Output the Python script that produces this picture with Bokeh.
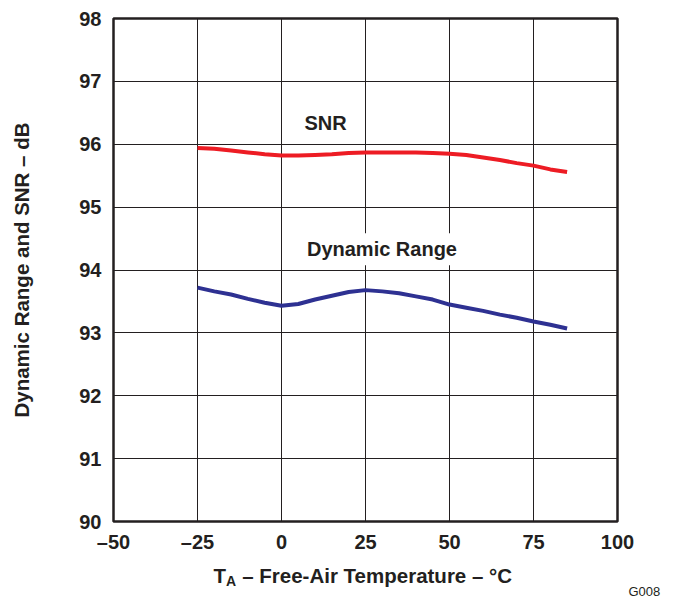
from bokeh.plotting import figure
from bokeh.models import Range1d, FixedTicker, Label, LinearAxis
from bokeh.layouts import column
from bokeh.embed import file_html
from bokeh.resources import INLINE

# ---- data ----
temperature = [-25, -20, -15, -10, -5, 0, 5, 10, 15, 20, 25, 30, 35, 40, 45, 50, 55, 60, 65, 70, 75, 80, 85]
snr = [95.94, 95.93, 95.90, 95.87, 95.84, 95.82, 95.82, 95.83, 95.84, 95.86, 95.87, 95.87, 95.87, 95.87,
       95.86, 95.85, 95.83, 95.79, 95.75, 95.70, 95.66, 95.60, 95.56]
dynamic_range = [93.72, 93.66, 93.61, 93.54, 93.48, 93.43, 93.46, 93.53, 93.59, 93.65, 93.68, 93.66, 93.63,
                 93.58, 93.53, 93.45, 93.40, 93.35, 93.29, 93.24, 93.18, 93.13, 93.07]
x_ticks = [-50, -25, 0, 25, 50, 75, 100]
y_ticks = [90, 91, 92, 93, 94, 95, 96, 97, 98]
x_tick_labels = {-50: "\u201350", -25: "\u201325"}

FONT = "Liberation Sans"
INK = "#231f20"
W = 673
H1, H2 = 562, 37

p = figure(width=W, height=H1, output_backend="svg", toolbar_location=None,
           x_range=Range1d(-50, 100), y_range=Range1d(90, 98),
           min_border_left=113, min_border_right=56, min_border_top=18, min_border_bottom=41)
p.background_fill_color = "white"
p.border_fill_color = "white"
p.outline_line_color = INK
p.outline_line_width = 2.5

p.xaxis.ticker = FixedTicker(ticks=x_ticks)
p.yaxis.ticker = FixedTicker(ticks=y_ticks)
p.xaxis.major_label_overrides = x_tick_labels
for ax in (p.xaxis[0], p.yaxis[0]):
    ax.axis_line_color = None
    ax.major_tick_line_color = None
    ax.minor_tick_line_color = None
    ax.major_tick_out = 0
    ax.major_tick_in = 0
    ax.major_label_text_font = FONT
    ax.major_label_text_font_style = "bold"
    ax.major_label_text_font_size = "20px"
    ax.major_label_text_color = INK
p.xaxis.major_label_standoff = 9
p.yaxis.major_label_standoff = 12

p.yaxis.axis_label = "Dynamic Range and SNR \u2013 dB"
p.yaxis.axis_label_text_font = FONT
p.yaxis.axis_label_text_font_style = "bold"
p.yaxis.axis_label_text_font_size = "20.5px"
p.yaxis.axis_label_text_color = INK
p.yaxis.axis_label_standoff = 43

for g in (p.xgrid[0], p.ygrid[0]):
    g.grid_line_color = INK
    g.grid_line_width = 1
    g.grid_line_alpha = 1

p.line(temperature, snr, line_color="#ed1c24", line_width=4)
p.line(temperature, dynamic_range, line_color="#2e3192", line_width=4)

for txt, lx, ly in (("SNR", 13.1, 96.34), ("Dynamic Range", 29.9, 94.33)):
    p.add_layout(Label(x=lx, y=ly, text=txt, text_align="center", text_baseline="middle",
                       text_font=FONT, text_font_style="bold", text_font_size="20px",
                       text_color=INK, background_fill_color="white", padding=5))

# strip below the plot: x-axis title with subscript, and the figure code
# (its frame is aligned with the plot frame, so its x units are page pixels 113..617)
q = figure(width=W, height=H2, output_backend="svg", toolbar_location=None, title=None,
           x_axis_location=None, y_axis_location=None,
           x_range=Range1d(113, 617), y_range=Range1d(0, H2),
           min_border_left=0, min_border_right=0, min_border_top=0, min_border_bottom=0)
q.grid.visible = False
q.outline_line_color = None
q.background_fill_color = "white"
q.border_fill_color = "white"

q.add_layout(Label(x=213, y=24, text="T", text_align="left", text_baseline="alphabetic",
                   text_font=FONT, text_font_style="bold", text_font_size="20.5px", text_color=INK))
q.add_layout(Label(x=225.5, y=19, text="A", text_align="left", text_baseline="alphabetic",
                   text_font=FONT, text_font_style="bold", text_font_size="14px", text_color=INK))
q.add_layout(Label(x=236, y=24, text="\u00a0\u2013 Free-Air Temperature \u2013 \u00b0C", text_align="left",
                   text_baseline="alphabetic", text_font=FONT, text_font_style="bold",
                   text_font_size="20.5px", text_color=INK))

code_axis = LinearAxis(ticker=FixedTicker(ticks=[7]), major_label_overrides={7: "G008"})
code_axis.axis_line_color = None
code_axis.major_tick_line_color = None
code_axis.minor_tick_line_color = None
code_axis.major_tick_out = 0
code_axis.major_tick_in = 0
code_axis.major_label_standoff = 11
code_axis.major_label_text_font = FONT
code_axis.major_label_text_font_size = "13px"
code_axis.major_label_text_color = INK
q.add_layout(code_axis, "right")

layout = column(p, q, spacing=0)
open("out.html", "w").write(file_html(layout, INLINE))
